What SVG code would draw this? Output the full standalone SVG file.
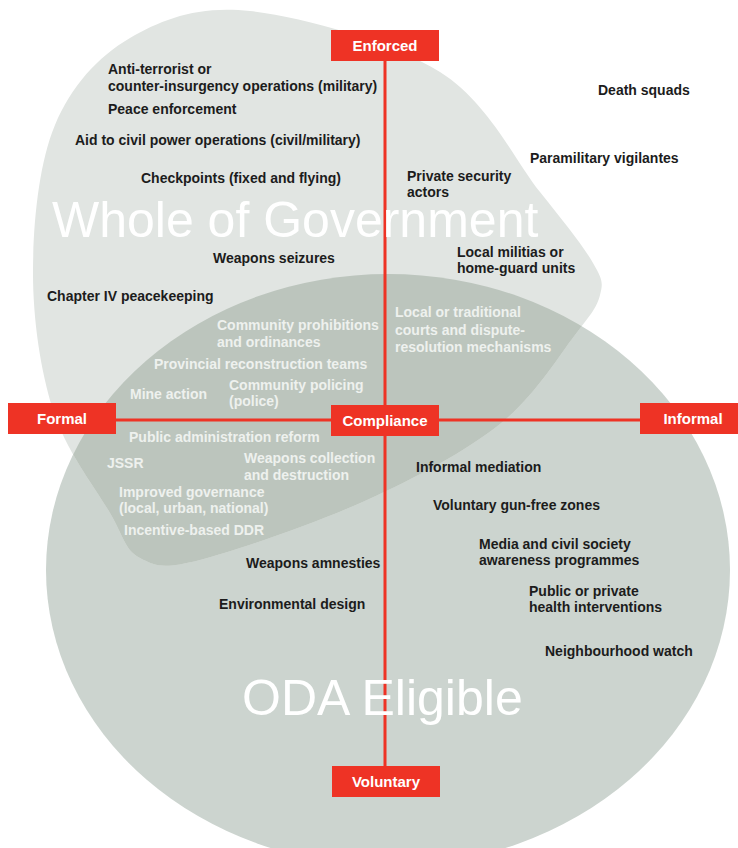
<svg xmlns="http://www.w3.org/2000/svg" width="738" height="848" viewBox="0 0 738 848">
<defs>
<style>
.lbl{font-family:"Liberation Sans",Arial,sans-serif;font-size:14px;font-weight:bold;fill:#1c1c1c}
.wl{font-family:"Liberation Sans",Arial,sans-serif;font-size:14px;font-weight:bold;fill:#eef1ee}
.big{font-family:"Liberation Sans",Arial,sans-serif;font-size:50px;font-weight:normal;fill:#ffffff}
.box{fill:#ee3325}
.bt{font-family:"Liberation Sans",Arial,sans-serif;font-size:15px;font-weight:bold;fill:#ffffff;text-anchor:middle}
.axis{stroke:#ee3325;stroke-width:3;fill:none}
</style>
<path id="wogPath" d="M250,11 C301.7,16.7 391.7,41.8 440,72 C488.3,102.2 514.5,160.2 540,192 C565.5,223.8 583,245.8 593,263 C603,280.2 603,283 600,295 C597,307 591.7,313.5 575,335 C558.3,356.5 534.7,396.5 500,424 C465.3,451.5 417,477.3 367,500 C317,522.7 237.8,550.3 200,560 C162.2,569.7 155,565.8 140,558 C125,550.2 124.5,538 110,513 C95.5,488 65.8,450.5 53,410 C40.2,369.5 32.7,317.5 33,270 C33.3,222.5 38.8,163.7 55,125 C71.2,86.3 97.5,57 130,38 C162.5,19 198.3,5.3 250,11 Z"/>
<clipPath id="odaClip"><ellipse cx="388" cy="570" rx="342" ry="296"/></clipPath>
</defs>
<rect width="738" height="848" fill="#ffffff"/>
<g id="oda-eligible">
<ellipse cx="388" cy="570" rx="342" ry="296" fill="#ccd4cf"/>
</g>
<g id="whole-of-government">
<use href="#wogPath" fill="#e1e5e2"/>
<use href="#wogPath" fill="#bcc5bd" clip-path="url(#odaClip)"/>
</g>
<g id="connectors">
<line class="axis" x1="385" y1="61" x2="385" y2="766"/>
<line class="axis" x1="116" y1="420" x2="640" y2="420"/>
</g>
<g id="region-labels">
<text class="big" x="52" y="237">Whole of Government</text>
<text class="big" x="242" y="715">ODA Eligible</text>
</g>
<g id="node-enforced"><rect class="box" x="331" y="30" width="108" height="31"/><text class="bt" x="385" y="51">Enforced</text></g>
<g id="node-formal"><rect class="box" x="8" y="403" width="108" height="31"/><text class="bt" x="62" y="424">Formal</text></g>
<g id="node-compliance"><rect class="box" x="331" y="405" width="108" height="31"/><text class="bt" x="385" y="426">Compliance</text></g>
<g id="node-informal"><rect class="box" x="640" y="403" width="98" height="31"/><text class="bt" x="693" y="424">Informal</text></g>
<g id="node-voluntary"><rect class="box" x="332" y="766" width="108" height="31"/><text class="bt" x="386" y="787">Voluntary</text></g>
<g id="labels-dark">
<g id="anti-terrorist"><text class="lbl" x="108" y="74">Anti-terrorist or</text><text class="lbl" x="108" y="91">counter-insurgency operations (military)</text></g>
<g id="peace-enforcement"><text class="lbl" x="108" y="114">Peace enforcement</text></g>
<g id="aid-civil-power"><text class="lbl" x="75" y="145">Aid to civil power operations (civil/military)</text></g>
<g id="checkpoints"><text class="lbl" x="141" y="183">Checkpoints (fixed and flying)</text></g>
<g id="private-security"><text class="lbl" x="407" y="181">Private security</text><text class="lbl" x="407" y="197">actors</text></g>
<g id="death-squads"><text class="lbl" x="598" y="95">Death squads</text></g>
<g id="paramilitary"><text class="lbl" x="530" y="163">Paramilitary vigilantes</text></g>
<g id="weapons-seizures"><text class="lbl" x="213" y="263">Weapons seizures</text></g>
<g id="local-militias"><text class="lbl" x="457" y="257">Local militias or</text><text class="lbl" x="457" y="273">home-guard units</text></g>
<g id="chapter-iv"><text class="lbl" x="47" y="301">Chapter IV peacekeeping</text></g>
<g id="informal-mediation"><text class="lbl" x="416" y="472">Informal mediation</text></g>
<g id="gun-free-zones"><text class="lbl" x="433" y="510">Voluntary gun-free zones</text></g>
<g id="media-civil"><text class="lbl" x="479" y="549">Media and civil society</text><text class="lbl" x="479" y="565">awareness programmes</text></g>
<g id="weapons-amnesties"><text class="lbl" x="246" y="568">Weapons amnesties</text></g>
<g id="health"><text class="lbl" x="529" y="596">Public or private</text><text class="lbl" x="529" y="612">health interventions</text></g>
<g id="environmental-design"><text class="lbl" x="219" y="609">Environmental design</text></g>
<g id="neighbourhood-watch"><text class="lbl" x="545" y="656">Neighbourhood watch</text></g>
</g>
<g id="labels-light">
<g id="community-prohibitions"><text class="wl" x="217" y="330">Community prohibitions</text><text class="wl" x="217" y="347">and ordinances</text></g>
<g id="provincial"><text class="wl" x="154" y="369">Provincial reconstruction teams</text></g>
<g id="mine-action"><text class="wl" x="130" y="399">Mine action</text></g>
<g id="community-policing"><text class="wl" x="229" y="390">Community policing</text><text class="wl" x="229" y="406">(police)</text></g>
<g id="local-courts"><text class="wl" x="395" y="317">Local or traditional</text><text class="wl" x="395" y="335">courts and dispute-</text><text class="wl" x="395" y="352">resolution mechanisms</text></g>
<g id="public-admin"><text class="wl" x="129" y="442">Public administration reform</text></g>
<g id="jssr"><text class="wl" x="107" y="468">JSSR</text></g>
<g id="weapons-collection"><text class="wl" x="244" y="463">Weapons collection</text><text class="wl" x="244" y="480">and destruction</text></g>
<g id="improved-governance"><text class="wl" x="119" y="497">Improved governance</text><text class="wl" x="119" y="513">(local, urban, national)</text></g>
<g id="ddr"><text class="wl" x="124" y="535">Incentive-based DDR</text></g>
</g>
</svg>
